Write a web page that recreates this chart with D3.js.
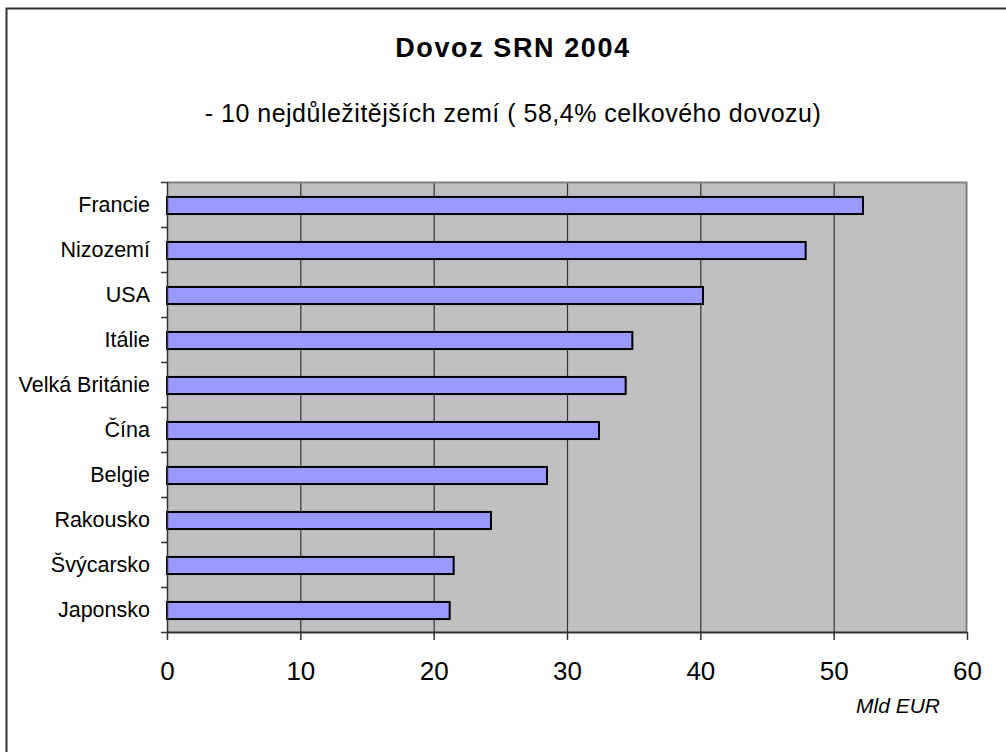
<!DOCTYPE html>
<html>
<head>
<meta charset="utf-8">
<script src="https://cdn.jsdelivr.net/npm/d3@7"></script>
<style>
  body { margin: 0; background: #fff; }
  text { font-family: Arial, "Liberation Sans", sans-serif; fill: #000; }
</style>
</head>
<body>
<svg width="1006" height="752"></svg>
<script>
// data
var countries = ["Francie", "Nizozemí", "USA", "Itálie", "Velká Británie", "Čína", "Belgie", "Rakousko", "Švýcarsko", "Japonsko"];
var imports = [52.2, 47.9, 40.2, 34.9, 34.4, 32.4, 28.5, 24.3, 21.5, 21.2];
var xTicks = [0, 10, 20, 30, 40, 50, 60];

var title = "Dovoz SRN 2004",
    subtitle = "- 10 nejdůležitějších zemí ( 58,4% celkového dovozu)",
    unit = "Mld EUR";

var svg = d3.select("svg"),
    width = +svg.attr("width"),
    height = +svg.attr("height");

var plot = {left: 167, top: 182, right: 967, bottom: 632};

// outer frame (runs off the page right and bottom)
svg.append("rect")
    .attr("x", 6.5).attr("y", 8.5)
    .attr("width", 1200).attr("height", 1000)
    .attr("fill", "none")
    .attr("stroke", "#333")
    .attr("stroke-width", 2);

svg.append("text")
    .attr("x", 513).attr("y", 57)
    .attr("text-anchor", "middle")
    .style("font-size", "27px")
    .style("font-weight", "bold")
    .style("letter-spacing", "1.6px")
    .text(title);

svg.append("text")
    .attr("x", 513).attr("y", 122)
    .attr("text-anchor", "middle")
    .style("font-size", "25px")
    .style("letter-spacing", "0.5px")
    .text(subtitle);

var x = d3.scaleLinear()
    .domain([0, 60])
    .range([plot.left, plot.right]);

var y = d3.scaleBand()
    .domain(countries)
    .range([plot.top, plot.bottom]);

// plot background
svg.append("rect")
    .attr("x", plot.left).attr("y", plot.top)
    .attr("width", plot.right - plot.left)
    .attr("height", plot.bottom - plot.top)
    .attr("fill", "#c0c0c0");

// gridlines
svg.append("g")
    .selectAll("line")
    .data(xTicks.slice(1, -1))
    .enter()
    .append("line")
    .attr("x1", function(d) { return x(d) + 0.5 })
    .attr("x2", function(d) { return x(d) + 0.5 })
    .attr("y1", plot.top)
    .attr("y2", plot.bottom)
    .attr("stroke", "#333")
    .attr("stroke-width", 1.2);

// top and right border of plot area
svg.append("path")
    .attr("d", "M" + plot.left + "," + (plot.top + 0.5) + "H" + (plot.right - 0.5) + "V" + plot.bottom)
    .attr("fill", "none")
    .attr("stroke", "#808080")
    .attr("stroke-width", 2);

// bars
var barH = y.bandwidth() * 0.38;
svg.append("g")
    .selectAll("rect")
    .data(countries)
    .enter()
    .append("rect")
    .attr("x", x(0))
    .attr("y", function(d) { return y(d) + (y.bandwidth() - barH) / 2 + 1 })
    .attr("width", function(d, i) { return x(imports[i]) - x(0) })
    .attr("height", barH)
    .attr("fill", "#9999ff")
    .attr("stroke", "#000")
    .attr("stroke-width", 2);

// y axis: ticks at band edges
var yg = svg.append("g");
yg.append("line")
    .attr("x1", plot.left + 0.5).attr("x2", plot.left + 0.5)
    .attr("y1", plot.top).attr("y2", plot.bottom)
    .attr("stroke", "#333").attr("stroke-width", 1.5);
yg.selectAll(".tk")
    .data(countries.concat(["end"]))
    .enter()
    .append("line")
    .attr("x1", plot.left - 6).attr("x2", plot.left)
    .attr("y1", function(d, i) { return plot.top + i * y.step() + 0.5 })
    .attr("y2", function(d, i) { return plot.top + i * y.step() + 0.5 })
    .attr("stroke", "#333").attr("stroke-width", 1.5);
yg.selectAll("text")
    .data(countries)
    .enter()
    .append("text")
    .attr("x", 150)
    .attr("y", function(d) { return y(d) + y.bandwidth() / 2 })
    .attr("dy", "0.36em")
    .attr("text-anchor", "end")
    .style("font-size", "21.5px")
    .text(function(d) { return d });

// x axis
var xAxis = d3.axisBottom(x)
    .tickValues(xTicks)
    .tickSize(8)
    .tickPadding(22)
    .tickFormat(d3.format("d"));

var xg = svg.append("g")
    .attr("transform", "translate(0," + plot.bottom + ")")
    .call(xAxis);
xg.select(".domain").attr("stroke", "#333").attr("stroke-width", 2).attr("d", "M" + plot.left + ",0.5H" + plot.right);
xg.selectAll(".tick line").attr("stroke", "#333").attr("stroke-width", 1.5);
xg.selectAll(".tick text")
    .style("font-size", "26px")
    .style("font-family", "Arial, 'Liberation Sans', sans-serif")
    .attr("fill", "#000");

svg.append("text")
    .attr("x", 898).attr("y", 713)
    .attr("text-anchor", "middle")
    .style("font-size", "21px")
    .style("font-style", "italic")
    .text(unit);
</script>
</body>
</html>
